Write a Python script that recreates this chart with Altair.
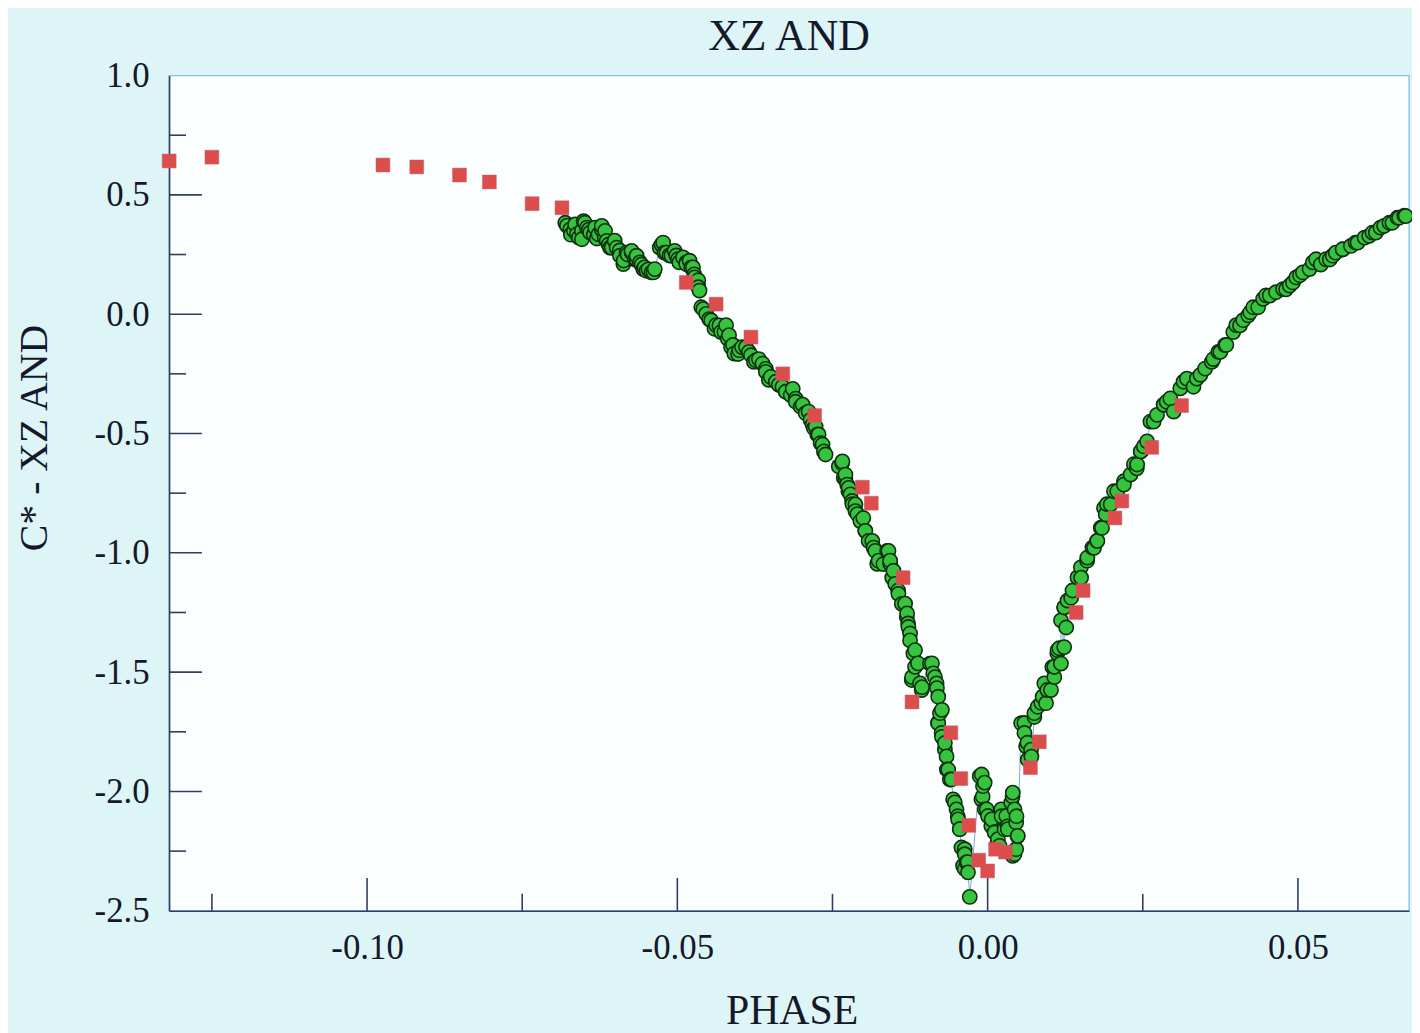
import altair as alt
import pandas as pd

# ---- data (phase, C* - XZ AND) ----
# upper descending branch, before the step near phase -0.047
seg_a_phase = [
    -0.06806, -0.06779, -0.06726, -0.06715, -0.06667, -0.06646, -0.06619, -0.06587, -0.06538,
    -0.06538, -0.06511, -0.06490, -0.06458, -0.06426, -0.06405, -0.06346, -0.06325, -0.06298,
    -0.06271, -0.06218, -0.06218, -0.06170, -0.06165, -0.06138, -0.06106, -0.06085, -0.06058,
    -0.06010, -0.05978, -0.05929, -0.05925, -0.05870, -0.05865, -0.05817, -0.05801, -0.05737,
    -0.05737, -0.05684, -0.05657, -0.05657, -0.05604, -0.05577, -0.05550, -0.05529, -0.05497,
    -0.05465, -0.05417, -0.05385, -0.05364,
    -0.05284, -0.05256, -0.05229, -0.05208, -0.05176, -0.05128, -0.05096, -0.05043, -0.05016,
    -0.04989, -0.04968, -0.04909, -0.04856, -0.04856, -0.04803, -0.04776, -0.04748, -0.04728,
    -0.04723, -0.04668, -0.04663, -0.04663, -0.04643,
]
seg_a_mag = [
    0.383, 0.371, 0.355, 0.333, 0.350, 0.376, 0.335, 0.321, 0.350,
    0.314, 0.390, 0.383, 0.363, 0.354, 0.342, 0.333, 0.363, 0.317,
    0.335, 0.354, 0.370, 0.321, 0.349, 0.307, 0.292, 0.279, 0.279,
    0.308, 0.279, 0.267, 0.245, 0.210, 0.225, 0.258, 0.250, 0.258,
    0.265, 0.230, 0.229, 0.245, 0.217, 0.208, 0.189, 0.196, 0.182,
    0.188, 0.175, 0.175, 0.189,
    0.279, 0.292, 0.300, 0.258, 0.258, 0.246, 0.245, 0.265, 0.246,
    0.230, 0.217, 0.238, 0.217, 0.210, 0.224, 0.196, 0.196, 0.167,
    0.154, 0.120, 0.142, 0.113, 0.099,
]
# main descent down to the deep minimum
seg_c_phase = [
    -0.04615, -0.04583, -0.04535, -0.04487, -0.04455, -0.04402, -0.04375, -0.04322, -0.04295,
    -0.04242, -0.04215, -0.04188, -0.04167, -0.04135, -0.04103, -0.04082, -0.04022, -0.04002,
    -0.03958, -0.03894, -0.03846, -0.03814, -0.03766, -0.03734, -0.03686, -0.03627, -0.03574,
    -0.03574, -0.03526, -0.03494, -0.03413, -0.03365, -0.03306, -0.03253, -0.03253, -0.03173,
    -0.03141, -0.03093, -0.03093, -0.03013, -0.02981, -0.02933, -0.02885, -0.02853, -0.02821,
    -0.02800, -0.02772, -0.02745, -0.02724, -0.02692, -0.02660, -0.02639, -0.02612,
    -0.02399, -0.02345, -0.02340, -0.02319, -0.02292, -0.02292, -0.02264, -0.02244, -0.02239,
    -0.02212, -0.02184, -0.02179, -0.02131, -0.02131, -0.02099, -0.02051, -0.02003, -0.01971,
    -0.01971, -0.01918, -0.01859, -0.01838, -0.01811, -0.01779, -0.01758, -0.01678, -0.01619,
    -0.01598, -0.01571, -0.01571, -0.01538, -0.01518, -0.01490, -0.01442, -0.01438, -0.01383,
    -0.01330, -0.01303, -0.01298, -0.01282, -0.01277, -0.01250, -0.01250, -0.01223, -0.01218,
    -0.01197, -0.01170, -0.01170, -0.01122, -0.01090, -0.01063, -0.01058,
]
seg_c_mag = [
    0.029, 0.021, 0.001, -0.021, -0.026, -0.061, -0.046, -0.047, -0.075,
    -0.075, -0.046, -0.103, -0.088, -0.138, -0.129, -0.165, -0.167, -0.151,
    -0.138, -0.138, -0.158, -0.172, -0.200, -0.193, -0.188, -0.207, -0.229,
    -0.242, -0.275, -0.263, -0.283, -0.296, -0.304, -0.325, -0.325, -0.339,
    -0.313, -0.354, -0.367, -0.388, -0.379, -0.415, -0.408, -0.443, -0.463,
    -0.478, -0.471, -0.505, -0.504, -0.540, -0.546, -0.575, -0.588,
    -0.638, -0.624, -0.617, -0.686, -0.688, -0.672, -0.714, -0.742, -0.728,
    -0.755, -0.783, -0.796, -0.797, -0.825, -0.838, -0.867, -0.854, -0.908,
    -0.908, -0.950, -0.950, -0.978, -0.992, -1.046, -1.033, -1.047, -0.992,
    -0.992, -1.046, -1.033, -1.104, -1.075, -1.130, -1.158, -1.172, -1.214,
    -1.213, -1.270, -1.254, -1.296, -1.311, -1.338, -1.367, -1.533, -1.521,
    -1.422, -1.408, -1.478, -1.463, -1.547, -1.575, -1.563,
]
# bottom of the eclipse, left wall and deepest points
seg_dip_phase = [
    -0.00929, -0.00897, -0.00876, -0.00849, -0.00822, -0.00817, -0.00801, -0.00796, -0.00796,
    -0.00769, -0.00742, -0.00737, -0.00737, -0.00689, -0.00689, -0.00662, -0.00657, -0.00636,
    -0.00609, -0.00582, -0.00556, -0.00529, -0.00502, -0.00481, -0.00476, -0.00449, -0.00449,
    -0.00422, -0.00396, -0.00369, -0.00369, -0.00369, -0.00341, -0.00321, -0.00316, -0.00288,
]
seg_dip_mag = [
    -1.464, -1.463, -1.505, -1.521, -1.547, -1.567, -1.713, -1.603, -1.714,
    -1.672, -1.755, -1.658, -1.771, -1.825, -1.797, -1.853, -1.908, -1.908,
    -1.950, -1.950, -2.033, -2.046, -2.075, -2.104, -2.117, -2.158, -2.158,
    -2.235, -2.311, -2.242, -2.263, -2.325, -2.297, -2.296, -2.339, -2.442,
]
# central bump
seg_bump_phase = [
    -0.00128, -0.00101, -0.00096, -0.00080, -0.00075, -0.00048, -0.00048, -0.00016, 0.00005,
    0.00059, 0.00064, 0.00112, 0.00112, 0.00160, 0.00165, 0.00192, 0.00220, 0.00224, 0.00272,
    0.00300, 0.00321, 0.00325, 0.00380, 0.00401, 0.00405, 0.00405, 0.00433, 0.00433, 0.00460,
    0.00460, 0.00465, 0.00481, 0.00486,
]
seg_bump_mag = [
    -1.936, -2.033, -1.929, -2.021, -1.978, -1.963, -2.075, -2.075, -2.103,
    -2.145, -2.117, -2.171, -2.172, -2.213, -2.200, -2.228, -2.075, -2.104, -2.158,
    -2.103, -2.146, -2.158, -2.047, -2.021, -2.005, -2.270, -2.263, -2.075, -2.130,
    -2.242, -2.104, -2.188, -2.186,
]
# ascending branch (egress)
seg_rise_phase = [
    0.00540, 0.00593, 0.00593, 0.00620, 0.00641, 0.00646, 0.00700, 0.00705, 0.00753, 0.00753,
    0.00806, 0.00865, 0.00886, 0.00913, 0.00941, 0.00962, 0.01021, 0.01042, 0.01074, 0.01074,
    0.01122, 0.01127, 0.01154, 0.01181, 0.01181, 0.01234, 0.01234, 0.01234, 0.01266, 0.01287,
    0.01346, 0.01367, 0.01447, 0.01502, 0.01506, 0.01603, 0.01607, 0.01688, 0.01715, 0.01763,
    0.01768, 0.01822, 0.01843, 0.01875, 0.01902, 0.01923, 0.01982, 0.02035, 0.02088, 0.02196,
    0.02196, 0.02303, 0.02356, 0.02404, 0.02409, 0.02468, 0.02468, 0.02516, 0.02569,
]
seg_rise_mag = [
    -1.714, -1.713, -1.755, -1.811, -1.796, -1.867, -1.825, -1.854, -1.688, -1.672,
    -1.645, -1.629, -1.603, -1.547, -1.630, -1.575, -1.575, -1.479, -1.521, -1.478,
    -1.421, -1.408, -1.400, -1.464, -1.283, -1.395, -1.229, -1.228, -1.313, -1.200,
    -1.188, -1.158, -1.103, -1.061, -1.104, -1.033, -1.020, -0.978, -0.979, -0.950,
    -0.950, -0.895, -0.896, -0.813, -0.839, -0.796, -0.797, -0.742, -0.742, -0.700,
    -0.714, -0.672, -0.629, -0.646, -0.630, -0.575, -0.575, -0.554, -0.533,
]
# upper ascending branch to the right edge
seg_top_phase = [
    0.02623, 0.02676, 0.02729, 0.02837, 0.02837, 0.02885, 0.02944, 0.02997, 0.03104, 0.03157,
    0.03210, 0.03317, 0.03370, 0.03429, 0.03505, 0.03611, 0.03638, 0.03718, 0.03750, 0.03825,
    0.03846, 0.03958, 0.04006, 0.04066, 0.04119, 0.04199, 0.04231, 0.04279, 0.04359, 0.04439,
    0.04487, 0.04546, 0.04647, 0.04760, 0.04808, 0.04867, 0.04920, 0.04973, 0.05032, 0.05080,
    0.05187, 0.05240, 0.05293, 0.05369, 0.05454, 0.05513, 0.05561, 0.05609, 0.05721, 0.05721,
    0.05854, 0.05929, 0.05962, 0.06074, 0.06149, 0.06202, 0.06255, 0.06330, 0.06389, 0.06474,
    0.06522, 0.06603, 0.06630, 0.06715, 0.06736,
]
seg_top_mag = [
    -0.450, -0.450, -0.422, -0.380, -0.379, -0.367, -0.353, -0.408, -0.311, -0.283,
    -0.270, -0.304, -0.270, -0.254, -0.228, -0.200, -0.188, -0.158, -0.158, -0.130,
    -0.129, -0.075, -0.046, -0.047, -0.025, -0.005, 0.008, 0.029, 0.029, 0.064,
    0.079, 0.078, 0.092, 0.105, 0.104, 0.120, 0.133, 0.154, 0.163, 0.175,
    0.189, 0.217, 0.230, 0.208, 0.230, 0.229, 0.245, 0.258, 0.271, 0.272,
    0.286, 0.300, 0.300, 0.321, 0.328, 0.342, 0.342, 0.363, 0.370, 0.383,
    0.383, 0.404, 0.404, 0.413, 0.411,
]

red_phase = [
    -0.13189, -0.12500, -0.09744, -0.09199, -0.08510, -0.08029, -0.07340, -0.06859,
    -0.04856, -0.04375, -0.03814, -0.03301, -0.02788, -0.02019, -0.01875, -0.01362,
    -0.01218, -0.00593, -0.00433, -0.00304, -0.00144, 0.00000, 0.00128, 0.00288,
    0.00689, 0.00833, 0.01426, 0.01538, 0.02051, 0.02163, 0.02644, 0.03125,
]
red_mag = [
    0.642, 0.658, 0.625, 0.617, 0.583, 0.554, 0.463, 0.446,
    0.133, 0.042, -0.096, -0.250, -0.425, -0.725, -0.792, -1.104,
    -1.625, -1.754, -1.946, -2.142, -2.288, -2.333, -2.242, -2.254,
    -1.900, -1.792, -1.250, -1.158, -0.854, -0.783, -0.558, -0.383,
]

x_major = [-0.10, -0.05, 0.00, 0.05]
x_minor = [-0.125, -0.075, -0.025, 0.025]
y_major = [-2.0, -1.5, -1.0, -0.5, 0.0, 0.5]
y_minor = [-2.25, -1.75, -1.25, -0.75, -0.25, 0.25, 0.75]
y_labels = [-2.5, -2.0, -1.5, -1.0, -0.5, 0.0, 0.5, 1.0]

TITLE = "XZ AND"
X_TITLE = "PHASE"
Y_TITLE = "C* - XZ AND"

X_DOMAIN = [-0.1319, 0.0679]
Y_DOMAIN = [-2.5, 1.0]

W, H = 1247, 840
FONT = "Liberation Serif"
AXIS_COLOR = "#2f3d62"
TEXT_COLOR = "#15182a"

green_phase = seg_a_phase + seg_c_phase + seg_dip_phase + seg_bump_phase + seg_rise_phase + seg_top_phase
green_mag = seg_a_mag + seg_c_mag + seg_dip_mag + seg_bump_mag + seg_rise_mag + seg_top_mag

green = pd.DataFrame({"phase": green_phase, "mag": green_mag})
red = pd.DataFrame({"phase": red_phase, "mag": red_mag})

xscale = alt.Scale(domain=X_DOMAIN, nice=False, zero=False)
yscale = alt.Scale(domain=Y_DOMAIN, nice=False, zero=False)

x_axis = alt.Axis(
    title=X_TITLE, values=x_major, ticks=False, grid=False,
    labelExpr="(datum.value < 0 ? '-' : '') + format(abs(datum.value), '.2f')",
    labelFont=FONT, labelFontSize=35, labelColor=TEXT_COLOR, labelPadding=20,
    labelFlush=False, labelOverlap=False,
    domainColor=AXIS_COLOR, domainWidth=1.6,
    titleFont=FONT, titleFontSize=42, titleFontWeight="normal", titleColor=TEXT_COLOR,
    titleX=626, titleY=100, titleBaseline="middle", titleAlign="center",
)
y_axis = alt.Axis(
    title=Y_TITLE, values=y_labels, ticks=False, grid=False,
    labelExpr="(datum.value < 0 ? '-' : '') + format(abs(datum.value), '.1f')",
    labelFont=FONT, labelFontSize=35, labelColor=TEXT_COLOR, labelPadding=20,
    labelFlush=False, labelOverlap=False,
    domainColor=AXIS_COLOR, domainWidth=1.6,
    titleFont=FONT, titleFontSize=40, titleFontWeight="normal", titleColor=TEXT_COLOR,
    titleX=-135, titleY=364, titleBaseline="middle", titleAlign="center", titleAngle=-90,
)

line = alt.Chart(green).mark_line(color="#7ea9d9", strokeWidth=1).encode(
    x=alt.X("phase:Q", scale=xscale, axis=x_axis),
    y=alt.Y("mag:Q", scale=yscale, axis=y_axis),
    order="phase:Q",
)

pts = alt.Chart(green).mark_point(
    shape="circle", filled=True, fill="#36c43f", stroke="#0f300f",
    strokeWidth=1.6, size=205, opacity=1,
).encode(x=alt.X("phase:Q", scale=xscale), y=alt.Y("mag:Q", scale=yscale))

sq = alt.Chart(red).mark_point(
    shape="square", filled=True, fill="#dd4d4b", stroke="#b8637a",
    strokeWidth=0.5, size=195, opacity=1,
).encode(x=alt.X("phase:Q", scale=xscale), y=alt.Y("mag:Q", scale=yscale))

def xticks(vals, length):
    return alt.Chart(pd.DataFrame({"v": vals})).mark_rule(
        color=AXIS_COLOR, strokeWidth=1.6
    ).encode(x=alt.X("v:Q", scale=xscale), y=alt.value(H), y2=alt.value(H - length))

def yticks(vals, length):
    return alt.Chart(pd.DataFrame({"v": vals})).mark_rule(
        color=AXIS_COLOR, strokeWidth=1.6
    ).encode(y=alt.Y("v:Q", scale=yscale), x=alt.value(0), x2=alt.value(length))

title = alt.Chart(pd.DataFrame({"t": [TITLE]})).mark_text(
    font=FONT, fontSize=44, color=TEXT_COLOR, align="center", baseline="alphabetic",
).encode(text="t:N", x=alt.value(W / 2), y=alt.value(-26))

chart = alt.layer(
    line, xticks(x_major, 33), xticks(x_minor, 17), yticks(y_major, 33), yticks(y_minor, 17),
    pts, sq, title,
).properties(
    width=W, height=H,
    background="#def5f7",
    autosize=alt.AutoSizeParams(type="none"),
    padding={"left": 162, "top": 65, "right": 3, "bottom": 120},
).configure_view(
    fill="#fafefe", stroke="#8cc0e4", strokeWidth=1.4,
)

chart.save("out.html", embed_options={"renderer": "svg", "actions": False})
